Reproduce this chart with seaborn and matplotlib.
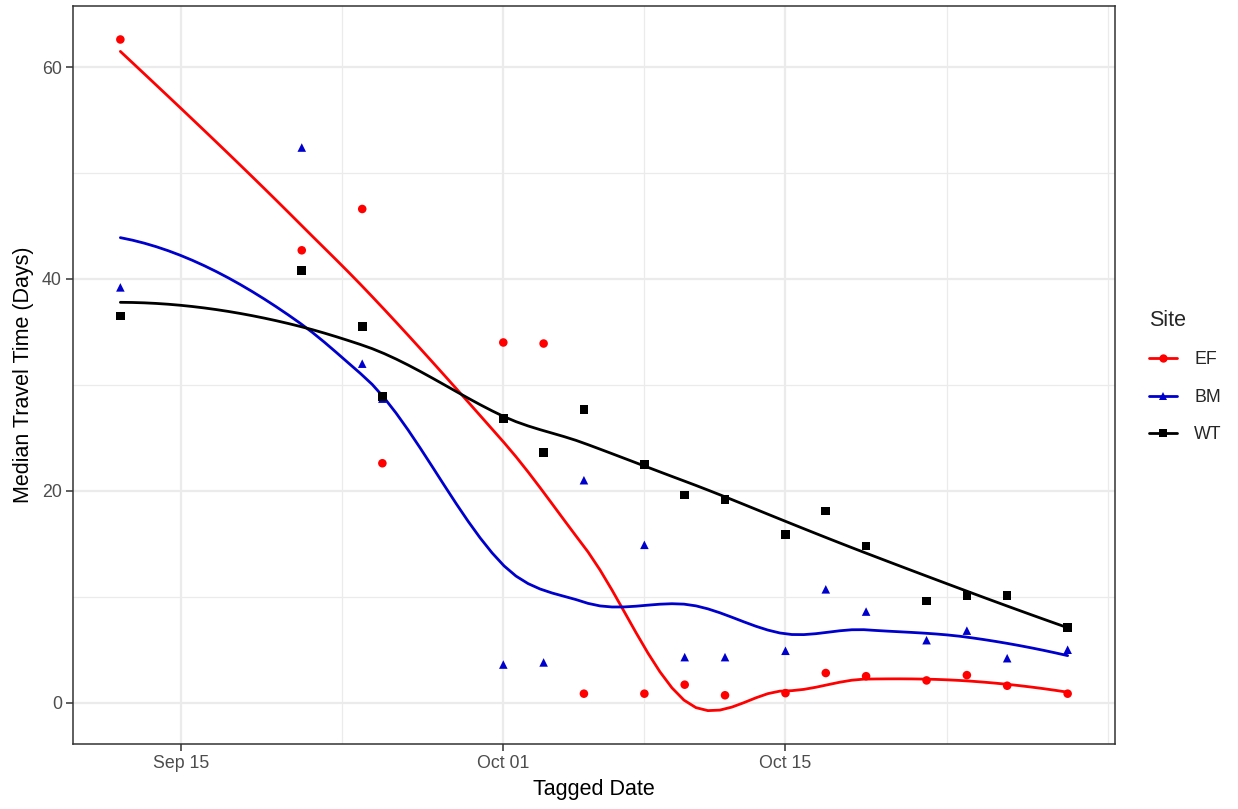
import numpy as np
import pandas as pd
import matplotlib
matplotlib.use("Agg")
import matplotlib.pyplot as plt
import matplotlib.dates as mdates
from matplotlib.lines import Line2D
import seaborn as sns

# ---- data ----
dates = ["2019-09-12", "2019-09-21", "2019-09-24", "2019-09-25", "2019-10-01",
         "2019-10-03", "2019-10-05", "2019-10-08", "2019-10-10", "2019-10-12",
         "2019-10-15", "2019-10-17", "2019-10-19", "2019-10-22", "2019-10-24",
         "2019-10-26", "2019-10-29"]
ef = [62.6, 42.7, 46.6, 22.6, 34.0, 33.9, 0.85, 0.85, 1.7, 0.7,
      0.9, 2.8, 2.5, 2.1, 2.6, 1.6, 0.85]
bm = [39.2, 52.4, 32.0, 28.7, 3.6, 3.8, 21.0, 14.9, 4.3, 4.3,
      4.9, 10.7, 8.6, 5.9, 6.8, 4.2, 5.0]
wt = [36.5, 40.8, 35.5, 28.9, 26.8, 23.6, 27.7, 22.5, 19.6, 19.2,
      15.9, 18.1, 14.8, 9.6, 10.1, 10.1, 7.1]
sites = ["EF", "BM", "WT"]
colors = {"EF": "#FF0000", "BM": "#0000CD", "WT": "#000000"}
markers = {"EF": "o", "BM": "^", "WT": "s"}
tick_dates = ["2019-09-15", "2019-10-01", "2019-10-15"]
minor_dates = ["2019-09-23", "2019-10-08", "2019-10-23", "2019-10-31"]
y_ticks = [0, 20, 40, 60]
y_minor = [10, 30, 50]

dt = pd.to_datetime(dates)
df = pd.concat([
    pd.DataFrame({"date": dt, "value": v, "Site": s})
    for s, v in zip(sites, [ef, bm, wt])
], ignore_index=True)


def local_fit(x, y, x0, q):
    d = np.abs(x - x0)
    h = np.sort(d)[q - 1]
    u = np.clip(d / h, 0, 1)
    w = (1 - u ** 3) ** 3
    X = np.vstack([np.ones_like(x), x - x0, (x - x0) ** 2]).T
    W = np.diag(w)
    beta = np.linalg.lstsq(X.T @ W @ X, X.T @ W @ y, rcond=None)[0]
    return beta[0], beta[1]


def kd_vertices(x, fc):
    xs = np.sort(x)
    verts = set()

    def split(l, u):  # 1-based inclusive
        if u - l + 1 <= fc:
            return
        m = (l + u) // 2
        verts.add(xs[m - 1])
        split(l, m)
        split(m + 1, u)

    split(1, len(xs))
    mu = 0.005 * (xs[-1] - xs[0])
    verts.update([xs[0] - mu, xs[-1] + mu])
    return np.array(sorted(verts))


def loess(x, y, xout, span=0.75):
    x = np.asarray(x, float)
    y = np.asarray(y, float)
    n = len(x)
    q = int(np.floor(n * span))
    fc = int(np.floor(n * span * 0.2))
    v = kd_vertices(x, fc)
    vals = np.array([local_fit(x, y, vv, q) for vv in v])
    out = []
    for x0 in xout:
        i = min(np.searchsorted(v, x0, side="right") - 1, len(v) - 2)
        a, b = v[i], v[i + 1]
        h = b - a
        t = (x0 - a) / h
        h00 = 2 * t ** 3 - 3 * t ** 2 + 1
        h10 = t ** 3 - 2 * t ** 2 + t
        h01 = -2 * t ** 3 + 3 * t ** 2
        h11 = t ** 3 - t ** 2
        out.append(h00 * vals[i, 0] + h10 * h * vals[i, 1]
                   + h01 * vals[i + 1, 0] + h11 * h * vals[i + 1, 1])
    return np.array(out)


xnum = mdates.date2num(dt)
grid = np.linspace(xnum.min(), xnum.max(), 80)
smooth = []
for s, v in zip(sites, [ef, bm, wt]):
    smooth.append(pd.DataFrame({"date": mdates.num2date(grid),
                                "value": loess(xnum, v, grid), "Site": s}))
sm = pd.concat(smooth, ignore_index=True)
sm["date"] = pd.to_datetime(sm["date"]).dt.tz_localize(None)

sns.set_theme(style="white")
plt.rcParams["font.family"] = ["Liberation Sans", "DejaVu Sans"]

fig = plt.figure(figsize=(12.38, 8.09), dpi=100)
ax = fig.add_axes([73 / 1238, 1 - 744 / 809, (1115 - 73) / 1238, (744 - 6) / 809])

# grid
for m in pd.to_datetime(minor_dates):
    ax.axvline(m, color="#EBEBEB", lw=0.9, zorder=0)
for m in y_minor:
    ax.axhline(m, color="#EBEBEB", lw=0.9, zorder=0)
for m in pd.to_datetime(tick_dates):
    ax.axvline(m, color="#EBEBEB", lw=1.6, zorder=0)
for m in y_ticks:
    ax.axhline(m, color="#EBEBEB", lw=1.6, zorder=0)

sns.lineplot(data=sm, x="date", y="value", hue="Site", palette=colors,
             hue_order=sites, linewidth=2.0, legend=False, ax=ax, zorder=3)
sns.scatterplot(data=df, x="date", y="value", hue="Site", style="Site",
                palette=colors, markers=markers, hue_order=sites,
                style_order=sites, s=38, linewidth=0, legend=False, ax=ax,
                zorder=4)

xmin = mdates.date2num(pd.Timestamp("2019-09-12")) - 2.35
xmax = mdates.date2num(pd.Timestamp("2019-10-29")) + 2.35
ax.set_xlim(xmin, xmax)
ax.set_ylim(-3.9, 65.76)
ax.set_xticks(pd.to_datetime(tick_dates))
ax.xaxis.set_major_formatter(mdates.DateFormatter("%b %d"))
ax.set_yticks(y_ticks)
ax.tick_params(axis="both", colors="#333333", length=5, width=1.1,
               labelsize=12.8, labelcolor="#4D4D4D", direction="out",
               bottom=True, left=True, pad=3)
ax.set_xlabel("Tagged Date", fontsize=15.5, color="black", labelpad=5)
ax.set_ylabel("Median Travel Time (Days)", fontsize=15.5, color="black", labelpad=6)
for sp in ax.spines.values():
    sp.set_color("#333333")
    sp.set_linewidth(1.1)
    sp.set_visible(True)

handles = [Line2D([0], [0], color=colors[s], marker=markers[s], lw=2.0,
                  markersize=6, markeredgewidth=0) for s in sites]
leg = fig.legend(handles, sites, title="Site", loc="upper left",
                 bbox_to_anchor=(1133 / 1238, 1 - 294 / 809), frameon=False,
                 fontsize=12.8, title_fontsize=15.5, handlelength=1.6,
                 labelspacing=1.15, handletextpad=0.95)
leg._legend_box.align = "left"

fig.savefig("out.png", dpi=100)
